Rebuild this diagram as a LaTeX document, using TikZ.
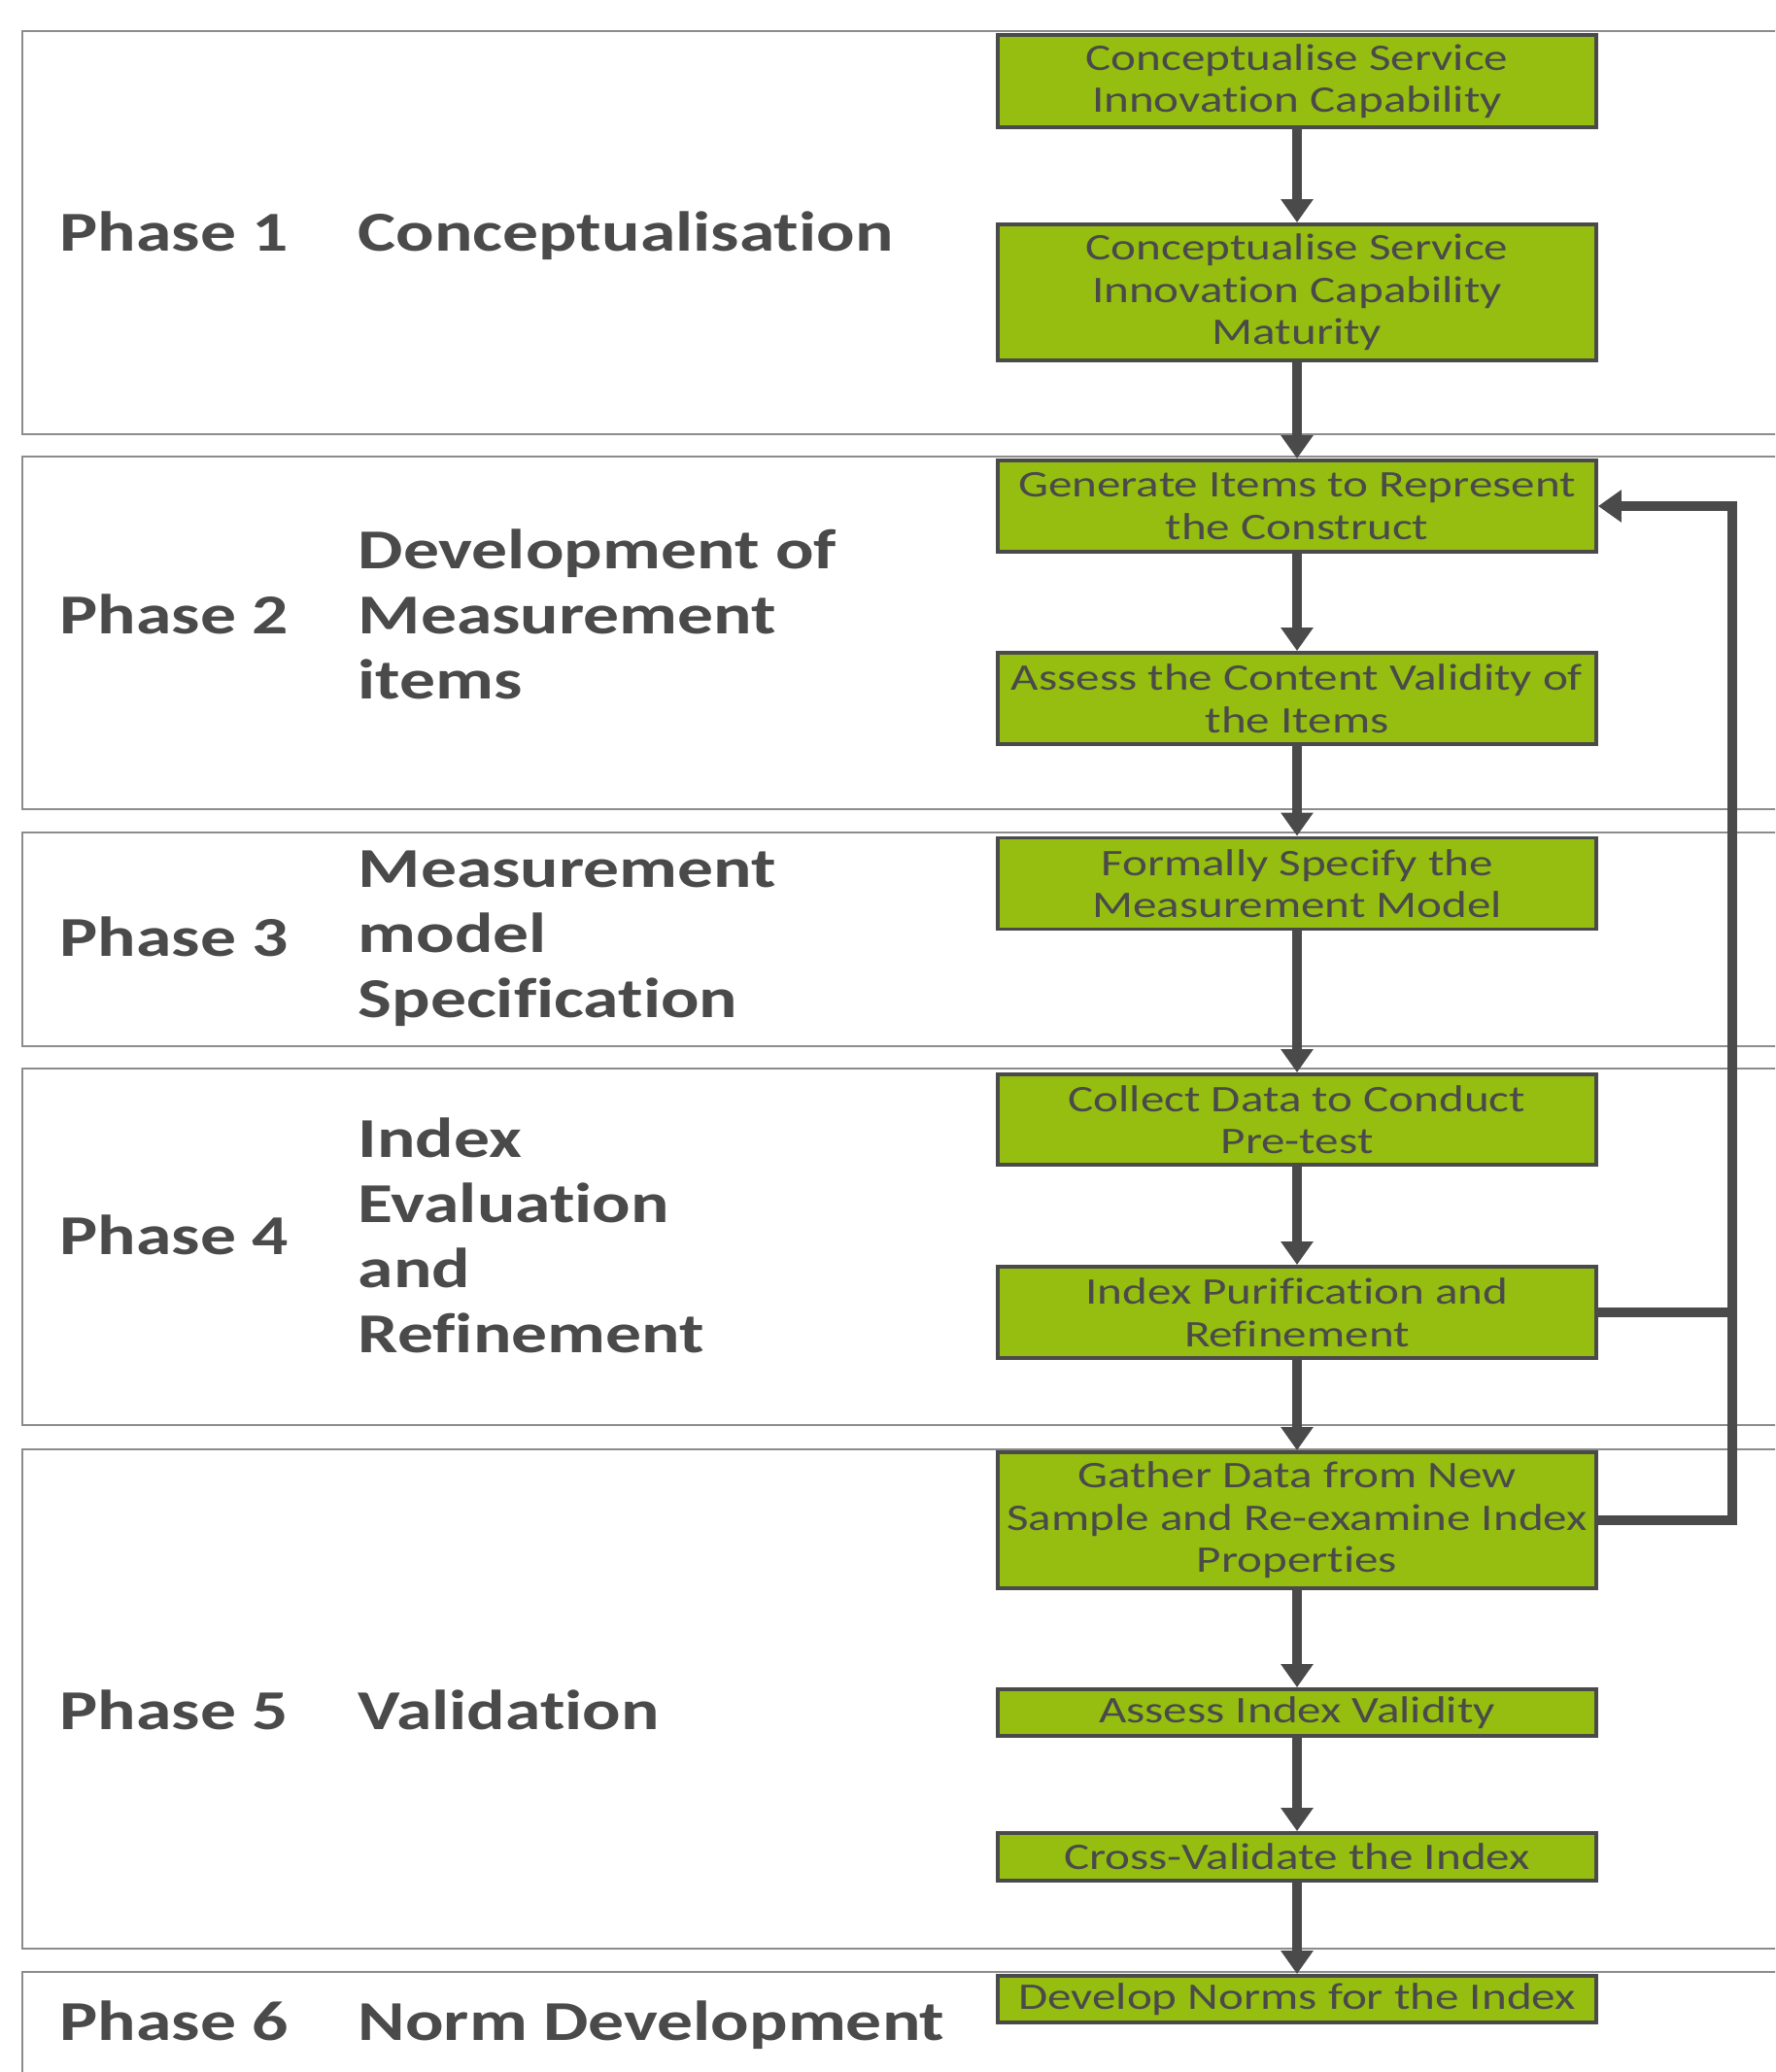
\documentclass[tikz,border=0pt]{standalone}
\usepackage{fontspec}
\setmainfont{Carlito}[FakeStretch=1.27, Ligatures=NoCommon]
\usepackage{tikz}
\usetikzlibrary{arrows.meta}

\definecolor{boxgreen}{HTML}{95BE10}
\definecolor{inkgray}{HTML}{4A4A4A}
\definecolor{framegray}{HTML}{8C8C8C}

\tikzset{
  stepbox/.style={draw=inkgray, line width=1.1pt, fill=boxgreen, text=inkgray,
    minimum width=6.16cm, inner sep=0pt, align=center,
    font=\fontsize{11}{12.4}\selectfont},
  phasebox/.style={draw=framegray, line width=0.8pt},
  phaselabel/.style={anchor=base west, text=inkgray, inner sep=0pt, align=left,
    font=\bfseries\fontsize{16.5}{19}\selectfont},
  flow/.style={draw=inkgray, line width=2.8pt, -{Triangle[width=0.32cm,length=0.24cm]}},
  flowline/.style={draw=inkgray, line width=2.8pt},
}

\begin{document}
\begin{tikzpicture}

\useasboundingbox (0,0) rectangle (18.27,-21.33);
\clip (0,0) rectangle (18.27,-21.33);

% phase frames, open to the right
    \draw[phasebox] (0.23,-0.32) rectangle (18.6,-4.47);   % phase 1
    \draw[phasebox] (0.23,-4.70) rectangle (18.6,-8.33);   % phase 2
    \draw[phasebox] (0.23,-8.57) rectangle (18.6,-10.77);  % phase 3
    \draw[phasebox] (0.23,-11.00) rectangle (18.6,-14.67); % phase 4
    \draw[phasebox] (0.23,-14.92) rectangle (18.6,-20.06); % phase 5
    \draw[phasebox] (0.23,-20.30) rectangle (18.6,-22.00); % phase 6

% phase labels (multi-line ones sit on their last line)
    \node[phaselabel] (p1) at (0.61,-2.58) {Phase 1};
    \node[phaselabel] (t1) at (3.68,-2.58) {Conceptualisation};
    \node[phaselabel] (p2) at (0.61,-6.52) {Phase 2};
    \node[phaselabel] (t2) at (3.68,-7.19) {Development of\\Measurement\\items};
    \node[phaselabel] (p3) at (0.61,-9.84) {Phase 3};
    \node[phaselabel] (t3) at (3.68,-10.47) {Measurement\\model\\Specification};
    \node[phaselabel] (p4) at (0.61,-12.91) {Phase 4};
    \node[phaselabel] (t4) at (3.68,-13.92) {Index\\Evaluation\\and\\Refinement};
    \node[phaselabel] (p5) at (0.61,-17.80) {Phase 5};
    \node[phaselabel] (t5) at (3.68,-17.80) {Validation};
    \node[phaselabel] (p6) at (0.61,-21.00) {Phase 6};
    \node[phaselabel] (t6) at (3.68,-21.00) {Norm Development};

% steps
    \node[stepbox, minimum height=0.95cm] (concept)  at (13.35,-0.835)
        {Conceptualise Service\\Innovation Capability};
    \node[stepbox, minimum height=1.40cm] (maturity) at (13.35,-3.01)
        {Conceptualise Service\\Innovation Capability\\Maturity};
    \node[stepbox, minimum height=0.94cm] (generate) at (13.35,-5.21)
        {Generate Items to Represent\\the Construct};
    \node[stepbox, minimum height=0.94cm] (content)  at (13.35,-7.19)
        {Assess the Content Validity of\\the Items};
    \node[stepbox, minimum height=0.94cm] (specify)  at (13.35,-9.095)
        {Formally Specify the\\Measurement Model};
    \node[stepbox, minimum height=0.93cm] (pretest)  at (13.35,-11.525)
        {Collect Data to Conduct\\Pre-test};
    \node[stepbox, minimum height=0.94cm] (purify)   at (13.35,-13.51)
        {Index Purification and\\Refinement};
    \node[stepbox, minimum height=1.40cm] (gather)   at (13.35,-15.65)
        {Gather Data from New\\Sample and Re-examine Index\\Properties};
    \node[stepbox, minimum height=0.48cm] (validity) at (13.35,-17.63)
        {Assess Index Validity};
    \node[stepbox, minimum height=0.49cm] (cross)    at (13.35,-19.115)
        {Cross-Validate the Index};
    \node[stepbox, minimum height=0.48cm] (norms)    at (13.35,-20.58)
        {Develop Norms for the Index};

% main flow
    \draw[flow] (concept) -- (maturity);
    \draw[flow] (maturity) -- (generate);
    \draw[flow] (generate) -- (content);
    \draw[flow] (content) -- (specify);
    \draw[flow] (specify) -- (pretest);
    \draw[flow] (pretest) -- (purify);
    \draw[flow] (purify) -- (gather);
    \draw[flow] (gather) -- (validity);
    \draw[flow] (validity) -- (cross);
    \draw[flow] (cross) -- (norms);

% feedback loop back to item generation
    \coordinate (loop) at (17.83,0);
    \draw[flowline] (purify.east) -- (purify.east -| loop);
    \draw[flow] (gather.east) -- (gather.east -| loop) -- (generate.east -| loop) -- (generate.east);

\end{tikzpicture}
\end{document}
